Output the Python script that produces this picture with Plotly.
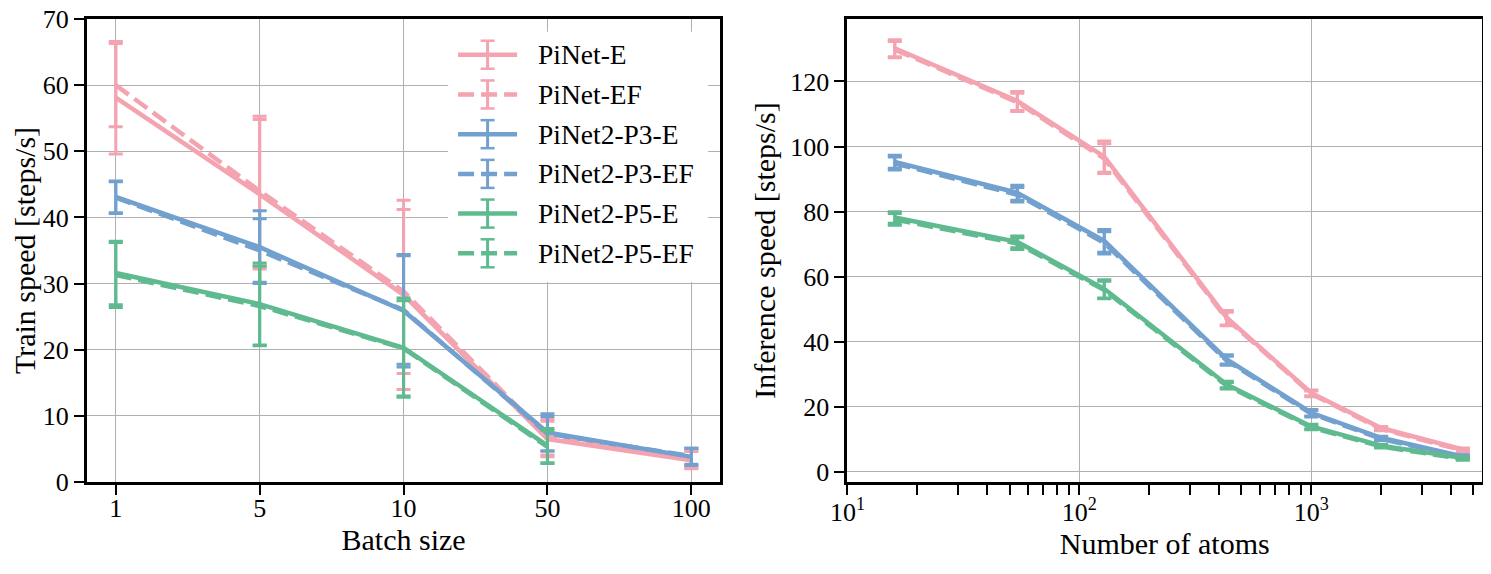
import plotly.graph_objects as go
from plotly.subplots import make_subplots

# ---------------- data ----------------
batch_sizes = ["1", "5", "10", "50", "100"]

pinet_e_train = [58.1, 43.5, 28.3, 6.5, 3.3]
pinet_e_train_err = [8.5, 11.3, 14.3, 2.7, 1.3]
pinet_ef_train = [60.0, 44.0, 28.8, 6.8, 3.5]
pinet_ef_train_err = [6.3, 11.3, 12.4, 2.7, 1.3]
p3_e_train = [43.1, 35.5, 25.9, 7.5, 3.8]
p3_e_train_err = [2.4, 5.5, 8.5, 2.8, 1.3]
p3_ef_train = [43.0, 35.0, 26.0, 7.3, 3.9]
p3_ef_train_err = [2.4, 4.8, 8.2, 2.6, 1.2]
p5_e_train = [31.6, 26.9, 20.3, 5.5, None]
p5_e_train_err = [4.8, 6.2, 7.5, 2.6, None]
p5_ef_train = [31.3, 26.6, 20.2, 5.3, None]
p5_ef_train_err = [4.9, 6.0, 7.2, 2.5, None]

n_atoms = [16, 54, 128, 432, 1000, 2000, 4500]

pinet_e_inf = [130.2, 114.0, 96.9, 47.4, 24.3, 13.5, 6.9]
pinet_e_inf_err = [2.6, 2.9, 4.8, 2.2, 0.9, 0.5, 0.5]
pinet_ef_inf = [129.8, 113.6, 96.3, 47.0, 24.0, 13.2, 6.6]
pinet_ef_inf_err = [2.5, 2.8, 4.6, 2.1, 0.9, 0.5, 0.5]
p3_e_inf = [95.3, 85.8, 71.0, 34.6, 18.2, 10.5, 4.8]
p3_e_inf_err = [2.0, 2.3, 3.5, 1.4, 1.0, 0.5, 0.5]
p3_ef_inf = [94.8, 85.2, 70.4, 34.2, 17.9, 10.2, 4.5]
p3_ef_inf_err = [2.0, 2.2, 3.4, 1.4, 1.0, 0.5, 0.5]
p5_e_inf = [78.2, 70.7, 56.3, 26.9, 14.0, 8.1, 4.3]
p5_e_inf_err = [1.8, 1.8, 2.8, 1.0, 0.7, 0.4, 0.4]
p5_ef_inf = [77.6, 70.2, 55.9, 26.5, 13.7, 7.8, 4.0]
p5_ef_inf_err = [1.8, 1.8, 2.7, 1.0, 0.7, 0.4, 0.4]

series_names = ["PiNet-E", "PiNet-EF", "PiNet2-P3-E", "PiNet2-P3-EF", "PiNet2-P5-E", "PiNet2-P5-EF"]

# ---------------- style ----------------
PINK = "#F4A3B0"
BLUE = "#73A1CF"
GREEN = "#5FBB8F"
colors = [PINK, PINK, BLUE, BLUE, GREEN, GREEN]
DASH = "16px,7px"
dashes = ["solid", DASH, "solid", DASH, "solid", DASH]
FONT = "Liberation Serif"
LW = 4.5

train_y = [pinet_e_train, pinet_ef_train, p3_e_train, p3_ef_train, p5_e_train, p5_ef_train]
train_err = [pinet_e_train_err, pinet_ef_train_err, p3_e_train_err, p3_ef_train_err,
             p5_e_train_err, p5_ef_train_err]
inf_y = [pinet_e_inf, pinet_ef_inf, p3_e_inf, p3_ef_inf, p5_e_inf, p5_ef_inf]
inf_err = [pinet_e_inf_err, pinet_ef_inf_err, p3_e_inf_err, p3_ef_inf_err,
           p5_e_inf_err, p5_ef_inf_err]

# page has an 8px body margin: figure is sized so it fits the 1491x574 window
OFF = 8
W, H = 1491 - OFF, 574 - OFF
PL, PR, PT, PB = 87.0, 1481.7, 19.3, 481.7   # plot-area edges in window pixels
ml, mr, mt, mb = PL - OFF, W - (PR - OFF), PT - OFF, H - (PB - OFF)
pw = PR - PL
ph = PB - PT

fig = make_subplots(rows=1, cols=2)

for i, name in enumerate(series_names):
    fig.add_trace(go.Scatter(
        x=batch_sizes, y=train_y[i], name=name, mode="lines",
        line=dict(color=colors[i], width=LW, dash=dashes[i]),
        error_y=dict(type="data", array=train_err[i], visible=True,
                     color=colors[i], thickness=3, width=7),
        showlegend=False, connectgaps=False,
    ), row=1, col=1)
    fig.add_trace(go.Scatter(
        x=n_atoms, y=inf_y[i], name=name, mode="lines",
        line=dict(color=colors[i], width=LW, dash=dashes[i]),
        error_y=dict(type="data", array=inf_err[i], visible=True,
                     color=colors[i], thickness=3, width=7),
        showlegend=False,
    ), row=1, col=2)

axis_common = dict(
    showline=True, linecolor="black", linewidth=3, mirror=True,
    ticks="outside", ticklen=10, tickwidth=2, tickcolor="black",
    showgrid=True, gridcolor="#b0b0b0", gridwidth=1.3,
    tickfont=dict(family=FONT, size=26, color="black"),
    zeroline=False, ticklabeloverflow="allow",
)

x1_dom = [0, (720 - PL) / pw]
x2_dom = [(847.3 - PL) / pw, 1]

fig.update_xaxes(axis_common, row=1, col=1)
fig.update_xaxes(axis_common, row=1, col=2)
fig.update_yaxes(axis_common, row=1, col=1)
fig.update_yaxes(axis_common, row=1, col=2)

TFONT = dict(family=FONT, size=30, color="black")
fig.update_layout(
    xaxis=dict(domain=x1_dom, type="category", range=[-0.2, 4.2], ticklabelstandoff=-9,
               title=dict(text="Batch size", font=TFONT, standoff=6)),
    yaxis=dict(domain=[0, 1], range=[0, 70], tickvals=[0, 10, 20, 30, 40, 50, 60, 70],
               title=dict(text="Train speed [steps/s]", font=TFONT, standoff=6)),
    xaxis2=dict(domain=x2_dom, type="log", range=[1, 3.736], ticklabelstandoff=-5,
                tickvals=[10, 100, 1000],
                ticktext=["10<sup>1</sup>", "10<sup>2</sup>", "10<sup>3</sup>"],
                minor=dict(ticks="outside", ticklen=10, tickwidth=2, tickcolor="black",
                           showgrid=False,
                           tickvals=[20, 30, 40, 50, 60, 70, 80, 90,
                                     200, 300, 400, 500, 600, 700, 800, 900,
                                     2000, 3000, 4000, 5000]),
                title=dict(text="Number of atoms", font=TFONT, standoff=3)),
    yaxis2=dict(domain=[0, 1], range=[-3.08, 139.2], tickvals=[0, 20, 40, 60, 80, 100, 120],
                title=dict(text="Inference speed [steps/s]", font=TFONT, standoff=6)),
    width=W, height=H,
    margin=dict(l=ml, r=mr, t=mt, b=mb, autoexpand=False),
    plot_bgcolor="white", paper_bgcolor="white",
    showlegend=False,
    font=dict(family=FONT, color="black"),
)

# ---------------- custom legend (matplotlib errorbar legend glyphs) ----------------
def px(x):
    return (x - PL) / pw

def py(y):
    return (PB - y) / ph

shapes = []
annotations = []
shapes.append(dict(type="rect", xref="paper", yref="paper", layer="above",
                   x0=px(448), x1=px(708), y0=py(32), y1=py(282),
                   fillcolor="white", line=dict(width=0)))
leg_y0, leg_dy = 55, 39.66
for i, name in enumerate(series_names):
    yc = leg_y0 + i * leg_dy
    shapes.append(dict(type="line", xref="paper", yref="paper", layer="above",
                       x0=px(458), x1=px(517), y0=py(yc), y1=py(yc),
                       line=dict(color=colors[i], width=LW, dash=dashes[i])))
    xc = 487.5
    shapes.append(dict(type="line", xref="paper", yref="paper", layer="above",
                       x0=px(xc), x1=px(xc), y0=py(yc - 14), y1=py(yc + 14),
                       line=dict(color=colors[i], width=3)))
    for yy in (yc - 14, yc + 14):
        shapes.append(dict(type="line", xref="paper", yref="paper", layer="above",
                           x0=px(xc - 7), x1=px(xc + 7), y0=py(yy), y1=py(yy),
                           line=dict(color=colors[i], width=2.5)))
    annotations.append(dict(xref="paper", yref="paper", x=px(536), y=py(yc),
                            xanchor="left", yanchor="middle", showarrow=False,
                            text=name, font=dict(family=FONT, size=27.5, color="black")))

fig.update_layout(shapes=shapes, annotations=annotations)

fig.write_html("out.html")
